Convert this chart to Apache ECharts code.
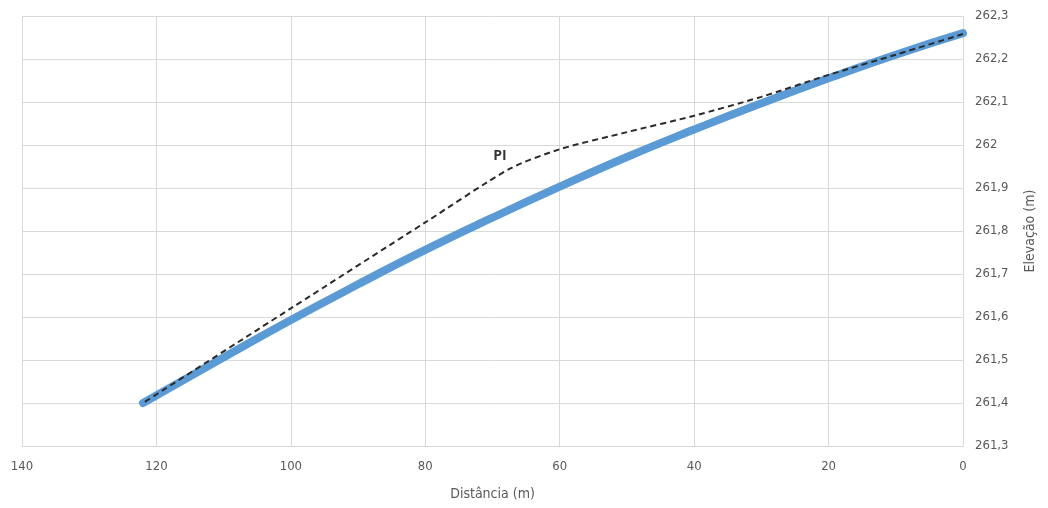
<!DOCTYPE html>
<html>
<head>
<meta charset="utf-8">
<script src="https://cdn.jsdelivr.net/npm/echarts@6/dist/echarts.min.js"></script>
<style>html,body{margin:0;padding:0;background:#fff}#c{width:1048px;height:508px}</style>
</head>
<body>
<div id="c"></div>
<script>
// Vertical curve profile (distance in m, elevation in m)
const curveDist = [0, 10, 20, 30, 40, 50, 60, 70, 80, 90, 100, 110, 122];
const curveElev = [262.26, 262.21, 262.155, 262.097, 262.036, 261.972, 261.903, 261.831, 261.756, 261.676, 261.593, 261.506, 261.40];

// Tangent lines through PI (dashed)
const tangDist = [0, 10, 20, 30, 40, 50, 60, 67.4, 80, 100, 122];
const tangElev = [262.258, 262.21, 262.163, 262.112, 262.068, 262.03, 261.99, 261.945, 261.82, 261.62, 261.40];
const piDist = 67.4;
const piElev = 261.945;
const piLabel = 'PI';

const xName = 'Distância (m)';
const yName = 'Elevação (m)';

const font = "'Liberation Sans Narrow','DejaVu Sans Condensed','Open Sans',sans-serif";
const chart = echarts.init(document.getElementById('c'));

chart.setOption({
  animation: false,
  grid: { left: 22, right: 85, top: 16, bottom: 62 },
  xAxis: {
    type: 'value', min: 0, max: 140, interval: 20, inverse: true,
    name: xName, nameLocation: 'middle', nameGap: 41,
    nameTextStyle: { color: '#595959', fontSize: 14, fontFamily: font },
    axisLine: { show: true, lineStyle: { color: '#d9d9d9' } },
    axisTick: { show: false },
    axisLabel: { color: '#595959', fontSize: 13, fontFamily: font, margin: 14 },
    splitLine: { show: true, lineStyle: { color: '#d9d9d9' } }
  },
  yAxis: {
    type: 'value', position: 'right', min: 261.3, max: 262.3, interval: 0.1,
    name: yName, nameLocation: 'middle', nameGap: 60, nameRotate: 90,
    nameTextStyle: { color: '#595959', fontSize: 14, fontFamily: font },
    axisLine: { show: false },
    axisTick: { show: false },
    axisLabel: { color: '#595959', fontSize: 13, fontFamily: font, margin: 12,
      formatter: v => String(+(+v).toFixed(1)).replace('.', ',') },
    splitLine: { show: true, lineStyle: { color: '#d9d9d9' } }
  },
  series: [
    {
      type: 'line', data: curveDist.map((d, i) => [d, curveElev[i]]),
      smooth: true, showSymbol: false, symbol: 'none',
      lineStyle: { color: '#5b9bd5', width: 8, cap: 'round' }, z: 2
    },
    {
      type: 'line', data: tangDist.map((d, i) => [d, tangElev[i]]),
      smooth: 0.25, symbol: 'none', showSymbol: false,
      lineStyle: { color: '#2b2b2b', width: 2, type: [6, 4] }, z: 3
    },
    {
      type: 'scatter', data: [[piDist, piElev]],
      symbolSize: 1, itemStyle: { color: 'rgba(0,0,0,0)' }, silent: true, z: 4,
      label: { show: true, formatter: piLabel, position: 'top', distance: 5, offset: [-10, 0],
        fontWeight: 'bold', fontSize: 14, color: '#000000', fontFamily: 'Open Sans, sans-serif' }
    }
  ]
});
</script>
</body>
</html>
